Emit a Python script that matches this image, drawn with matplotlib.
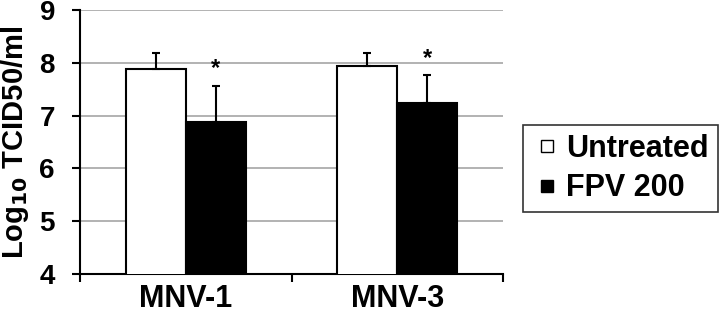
import matplotlib
matplotlib.use("Agg")
import matplotlib.pyplot as plt
from matplotlib.lines import Line2D
import numpy as np

categories = ["MNV-1", "MNV-3"]
series_names = ["Untreated", "FPV 200"]
untreated = [7.88, 7.93]
untreated_err = [0.30, 0.25]
fpv200 = [6.88, 7.24]
fpv200_err = [0.69, 0.52]
significant = [True, True]
yticks = [4, 5, 6, 7, 8, 9]

plt.rcParams['font.family'] = ['Liberation Sans', 'DejaVu Sans']
plt.rcParams['font.weight'] = 'bold'

fig = plt.figure(figsize=(7.2, 3.17), dpi=100)
ax = fig.add_axes([80/720, 1-274/317, (503-80)/720, (274-10)/317])

x = np.arange(len(categories))
w = 0.284
ax.bar(x - w/2, untreated, w, color='white', edgecolor='black', linewidth=1.5, zorder=3)
ax.bar(x + w/2, fpv200, w, color='black', edgecolor='black', linewidth=1.5, zorder=3)
ax.errorbar(x - w/2, untreated, yerr=[np.zeros(2), untreated_err], fmt='none',
            ecolor='black', elinewidth=1.5, capsize=3, capthick=1.5, zorder=4)
ax.errorbar(x + w/2, fpv200, yerr=[np.zeros(2), fpv200_err], fmt='none',
            ecolor='black', elinewidth=1.5, capsize=3, capthick=1.5, zorder=4)
for i, s in enumerate(significant):
    if s:
        ax.annotate("*", (x[i] + w/2, fpv200[i] + fpv200_err[i]), xytext=(0, 4),
                    textcoords='offset points', ha='center', va='bottom',
                    fontsize=17, fontweight='bold')

ax.set_ylim(4, 9)
ax.set_xlim(-0.5, 1.5)
ax.set_yticks(yticks)
ax.set_yticklabels([str(t) for t in yticks], fontsize=20, fontweight='bold')
ax.set_xticks(x)
ax.set_xticklabels(categories, fontsize=22, fontweight='bold')
ax.set_xticks([-0.5, 0.5, 1.5], minor=True)
ax.tick_params(axis='x', which='major', length=0, pad=7)
ax.tick_params(axis='x', which='minor', length=6, width=1.5, direction='out')
ax.tick_params(axis='y', length=6, width=1.5, direction='out', pad=12)
ax.yaxis.grid(True, color='#a6a6a6', linewidth=1.2, zorder=0)
ax.set_axisbelow(True)
for sp in ['top', 'right']:
    ax.spines[sp].set_visible(False)
for sp in ['left', 'bottom']:
    ax.spines[sp].set_linewidth(1.5)
ax.set_ylabel("Log$_{\\mathbf{10}}$ TCID50/ml", fontsize=21, fontweight='bold', labelpad=6)

handles = [Line2D([], [], marker='s', linestyle='none', markersize=9,
                  markerfacecolor='white', markeredgecolor='black', markeredgewidth=1),
           Line2D([], [], marker='s', linestyle='none', markersize=9,
                  markerfacecolor='black', markeredgecolor='black', markeredgewidth=1)]
leg = fig.legend(handles, series_names, loc='upper left',
                 bbox_to_anchor=(523/720, 1-125/317), frameon=True,
                 prop={'size': 22, 'weight': 'bold'}, handlelength=1.0,
                 handletextpad=0.1, borderpad=0.3, borderaxespad=0, labelspacing=0.3,
                 fancybox=False)
leg.get_frame().set_edgecolor('black')
leg.get_frame().set_linewidth(1.2)

fig.savefig("out.png", dpi=100)
